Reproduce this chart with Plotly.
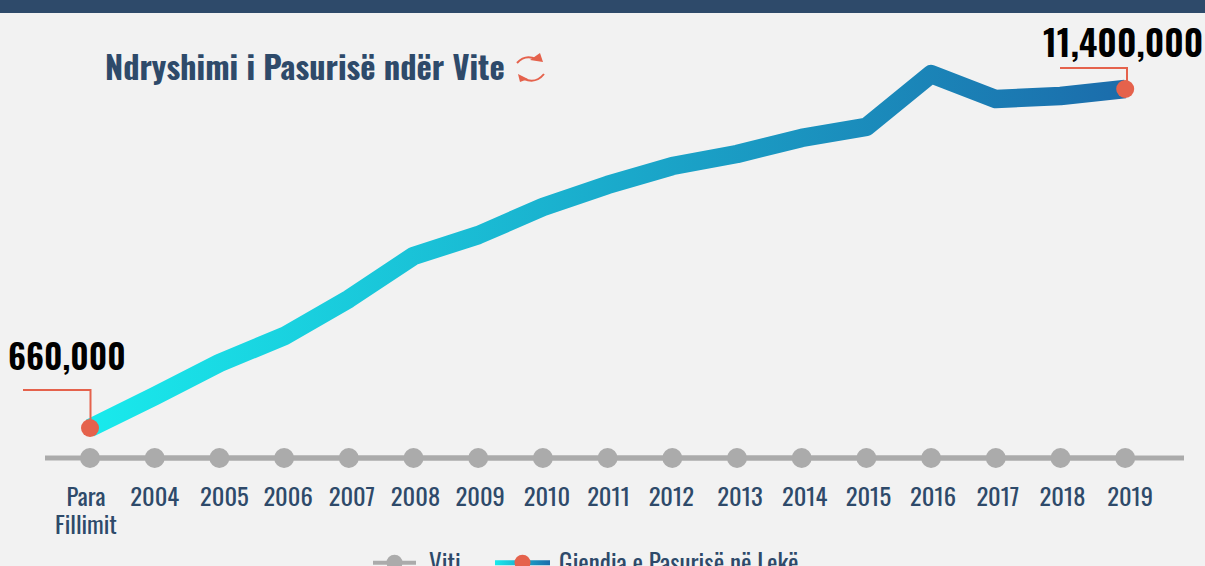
import plotly.graph_objects as go

categories = ["Para<br>Fillimit", "2004", "2005", "2006", "2007", "2008", "2009", "2010", "2011",
              "2012", "2013", "2014", "2015", "2016", "2017", "2018", "2019"]
wealth = [660000, 1670000, 2720000, 3570000, 4750000, 6110000, 6770000, 7660000, 8360000,
          8960000, 9340000, 9850000, 10200000, 11870000, 11080000, 11180000, 11400000]
year_level = [-290000] * 17
label_shift_px = [-4, 0, 5, 4, 3, 2, 2, 4, 1, -1, 3, 3, 2, 2, 2, 2, 5]

W, H, BOTTOM = 1205, 600, 130
STEP = 64.7
X0 = 90
NAVY = "#2e4a6a"
RED = "#e5624c"
GREY = "#ababab"
CLEAR = "rgba(0,0,0,0)"
FONT = "Oswald, Liberation Sans Narrow, Arial Narrow, sans-serif"

xs = list(range(len(categories)))
px = lambda p: p / W
py = lambda p: 1 - p / (H - BOTTOM)

fig = go.Figure()
fig.add_trace(go.Scatter(x=xs, y=year_level, mode="lines+markers", name="Viti",
                         line=dict(color=GREY, width=5),
                         marker=dict(color=GREY, size=20)))
fig.add_trace(go.Scatter(x=xs, y=wealth, mode="lines+markers", name="Gjendja e Pasurisë në Lekë",
                         line=dict(color="#1a8fc0", width=18.5, simplify=False),
                         marker=dict(color=[RED] + [CLEAR] * 15 + [RED], size=18, opacity=1,
                                     line=dict(width=0))))

shapes = [
    dict(type="rect", xref="paper", yref="paper", x0=0, x1=1, y0=py(13), y1=py(-1),
         fillcolor=NAVY, line_width=0),
    dict(type="line", xref="paper", yref="y", x0=px(45), x1=px(1184), y0=year_level[0], y1=year_level[0],
         line=dict(color=GREY, width=5), layer="below"),
    dict(type="path", xref="paper", yref="paper",
         path=f"M{px(23)},{py(390)} L{px(90.5)},{py(390)} L{px(90.5)},{py(428)}",
         line=dict(color=RED, width=2)),
    dict(type="path", xref="paper", yref="paper",
         path=f"M{px(1060)},{py(68)} L{px(1127)},{py(68)} L{px(1127)},{py(89)}",
         line=dict(color=RED, width=2)),
    # refresh icon beside the title
    dict(type="path", xref="paper", yref="paper",
         path=f"M{px(517)},{py(63)} Q{px(525)},{py(54)} {px(536)},{py(59)}",
         line=dict(color=RED, width=2)),
    dict(type="path", xref="paper", yref="paper",
         path=f"M{px(540)},{py(53)} L{px(543)},{py(62)} L{px(530)},{py(60)} Z",
         line=dict(width=0), fillcolor=RED),
    dict(type="path", xref="paper", yref="paper",
         path=f"M{px(544)},{py(74)} Q{px(536)},{py(84)} {px(524)},{py(79)}",
         line=dict(color=RED, width=2)),
    dict(type="path", xref="paper", yref="paper",
         path=f"M{px(518)},{py(74)} L{px(528)},{py(79)} L{px(520)},{py(82)} Z",
         line=dict(width=0), fillcolor=RED),
]

annotations = [
    dict(text="<b>Ndryshimi i Pasurisë ndër Vite</b>", xref="paper", yref="paper",
         x=px(103), y=py(65), xanchor="left", yanchor="middle", showarrow=False,
         font=dict(family=FONT, size=32.4, color=NAVY)),
    dict(text="660,000", xref="paper", yref="paper",
         x=px(67), y=py(354), xanchor="center", yanchor="middle", showarrow=False,
         font=dict(family=FONT, size=34, weight=600, color="#000000")),
    dict(text="11,400,000", xref="paper", yref="paper",
         x=px(1205), y=py(40), xanchor="right", yanchor="middle", showarrow=False,
         font=dict(family=FONT, size=36, weight=600, color="#000000")),
]

fig.update_layout(
    width=W, height=H, margin=dict(l=0, r=0, t=0, b=BOTTOM, pad=0),
    paper_bgcolor="#f2f2f2", plot_bgcolor="#f2f2f2",
    shapes=shapes, annotations=annotations,
    font=dict(family=FONT, color=NAVY),
    showlegend=True,
    legend=dict(orientation="h", x=px(368), y=py(540), xanchor="left", yanchor="top",
                bgcolor="rgba(0,0,0,0)", font=dict(family=FONT, size=25, color=NAVY),
                itemwidth=55, traceorder="normal", itemsizing="trace"),
    xaxis=dict(range=[-X0 / STEP, (W - X0) / STEP], showgrid=False, zeroline=False, showline=False,
               tickmode="array", tickvals=[i + s / STEP for i, s in zip(xs, label_shift_px)],
               ticktext=categories, ticks="", tickangle=0, ticklabelstandoff=10,
               tickfont=dict(family=FONT, size=24.5, color=NAVY)),
    yaxis=dict(range=[660000 - 42 * 31681, 660000 + 428 * 31681], visible=False),
)

post = """
document.documentElement.style.overflow='hidden';
document.body.style.margin='0';
document.body.style.overflow='hidden';
var svg=document.querySelector('.main-svg');
var NS='http://www.w3.org/2000/svg';
var defs=document.createElementNS(NS,'defs');
function grad(id,x1,x2){
  var g=document.createElementNS(NS,'linearGradient');
  g.setAttribute('id',id);g.setAttribute('gradientUnits','userSpaceOnUse');
  g.setAttribute('x1',x1);g.setAttribute('x2',x2);g.setAttribute('y1',0);g.setAttribute('y2',0);
  [['0','#19eaec'],['1','#1b6cab']].forEach(function(c){
    var s=document.createElementNS(NS,'stop');
    s.setAttribute('offset',c[0]);s.setAttribute('stop-color',c[1]);g.appendChild(s);});
  defs.appendChild(g);
}
svg.appendChild(defs);
var p=document.querySelectorAll('.scatterlayer .trace')[1].querySelector('path.js-line');
var b=p.getBBox();
grad('wealthGrad',b.x,b.x+b.width);
p.style.stroke='url(#wealthGrad)';
p.style.strokeLinejoin='round';
var items=document.querySelectorAll('.legend .traces');
var lp=items[1].querySelector('path.js-line');
var lb=lp.getBBox();
grad('legendGrad',lb.x,lb.x+lb.width);
lp.style.stroke='url(#legendGrad)';
lp.style.strokeWidth='5px';
var gl=items[0].querySelector('path.js-line');
gl.setAttribute('d','M5,0h43');
gl.style.strokeWidth='4px';
items[0].querySelectorAll('.legendpoints path.scatterpts').forEach(function(m){m.setAttribute('transform','translate(26.5,0)');});
items[0].querySelector('text.legendtext').setAttribute('x',61);
items[1].querySelector('text.legendtext').setAttribute('x',69);
var m0=items[0].getAttribute('transform').match(/translate\\(([-\\d.]+),\\s*([-\\d.]+)\\)/);
var m1=items[1].getAttribute('transform').match(/translate\\(([-\\d.]+),\\s*([-\\d.]+)\\)/);
items[1].setAttribute('transform','translate('+(parseFloat(m0[1])+122)+','+m1[2]+')');
document.querySelectorAll('.legend .scrollbox').forEach(function(s){s.removeAttribute('clip-path');s.style.clipPath='none';});
document.querySelectorAll('.xtick text tspan.line').forEach(function(t,i){
  if(t.getAttribute('dy') && parseFloat(t.getAttribute('dy'))>0){t.setAttribute('dy','1.15em');}
});
"""
fig.write_html("out.html", post_script=post, config=dict(displayModeBar=False))
